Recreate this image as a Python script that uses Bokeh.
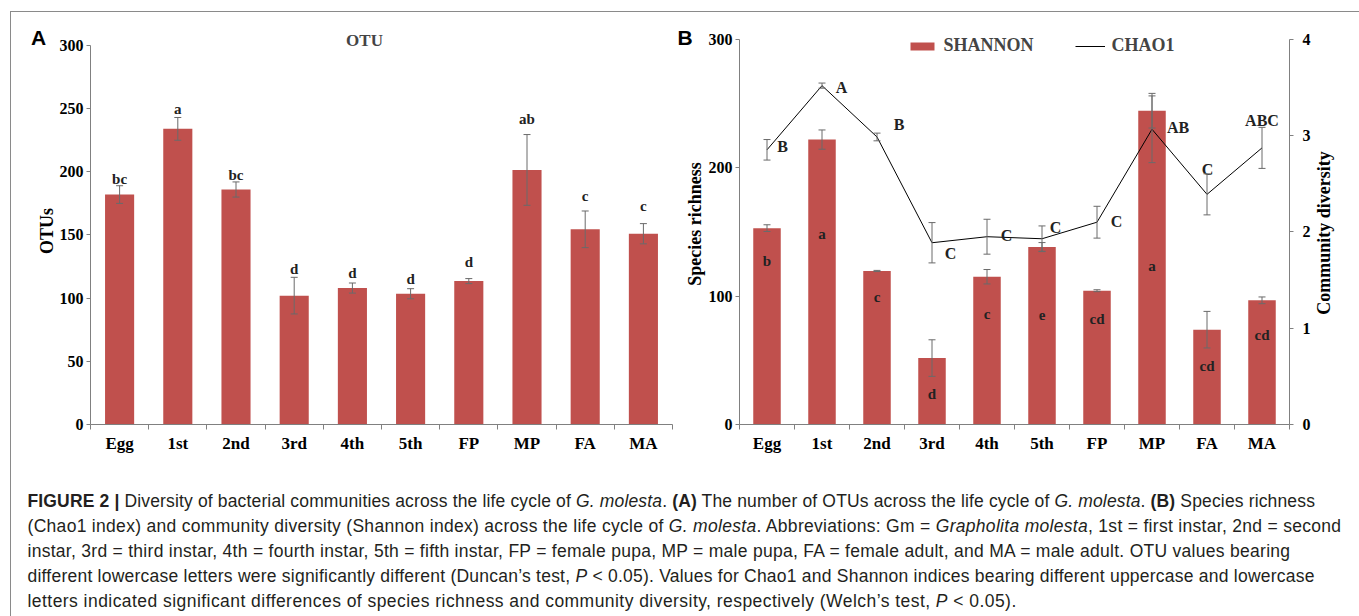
from bokeh.plotting import figure
from bokeh.models import (ColumnDataSource, Range1d, LinearAxis, FixedTicker, Whisker,
                          TeeHead, Label, Legend, LegendItem, Div)
from bokeh.layouts import row, column
from bokeh.core.properties import value
from bokeh.embed import file_html
from bokeh.resources import INLINE

# ---------------- data ----------------
categories = ["Egg", "1st", "2nd", "3rd", "4th", "5th", "FP", "MP", "FA", "MA"]

otu_mean = [182, 234, 186, 102, 108, 103.5, 113.5, 201.5, 154.5, 151]
otu_err = [7, 9, 6, 14.5, 4, 4, 2, 28, 14.5, 8]
otu_letters = ["bc", "a", "bc", "d", "d", "d", "d", "ab", "c", "c"]
otu_letter_y = [194, 250, 197.7, 122.7, 120.3, 114.8, 128.5, 241.5, 180.5, 172.8]

shannon = [2.04, 2.96, 1.595, 0.69, 1.535, 1.845, 1.39, 3.26, 0.985, 1.29]
shannon_err = [0.035, 0.1, 0.006, 0.19, 0.075, 0.045, 0.01, 0.18, 0.19, 0.035]
shannon_letters = ["b", "a", "c", "d", "c", "e", "cd", "a", "cd", "cd"]
shannon_letter_y = [1.698, 1.974, 1.323, 0.32, 1.147, 1.137, 1.099, 1.643, 0.61, 0.933]

chao1 = [214, 264, 224, 141.6, 146.3, 144.7, 157.6, 230, 179.3, 215.5]
chao1_err = [8, 2, 3, 15.7, 13.6, 10, 12.4, 26, 16, 16]
chao1_letters = ["B", "A", "B", "C", "C", "C", "C", "AB", "C", "ABC"]
chao1_letter_y = [216.5, 262.6, 233.9, 133.3, 147.5, 153.5, 157.9, 231, 198.4, 237.2]
chao1_letter_dx = [15.5, 19.5, 22, 18.5, 19.5, 13.5, 19.5, 26, 0.5, 0]

otu_ticks = [0, 50, 100, 150, 200, 250, 300]
rich_ticks = [0, 100, 200, 300]
div_ticks = [0, 1, 2, 3, 4]

# ---------------- styling ----------------
BAR = "#c0504d"
AXIS = "#808080"
ERR = "#6a6a6a"
SERIF = "Liberation Serif"
SANS = "Liberation Sans"

pos = list(range(1, len(categories) + 1))
bounds_ticks = [i + 0.5 for i in range(0, len(categories) + 1)]
overrides = {p: c for p, c in zip(pos, categories)}


def style_x_axis(ax):
    ax.ticker = FixedTicker(ticks=pos, minor_ticks=bounds_ticks)
    ax.major_label_overrides = overrides
    ax.major_tick_out = 0
    ax.major_tick_in = 0
    ax.minor_tick_out = 5
    ax.minor_tick_in = 0
    ax.minor_tick_line_color = AXIS
    ax.axis_line_color = AXIS
    ax.major_label_text_font = SERIF
    ax.major_label_text_font_style = "bold"
    ax.major_label_text_font_size = "17px"
    ax.major_label_text_color = "black"
    ax.major_label_standoff = 4


def style_y_axis(ax, ticks, bnds, standoff):
    ax.ticker = FixedTicker(ticks=ticks, minor_ticks=[])
    ax.bounds = bnds
    ax.major_tick_out = 4
    ax.major_tick_in = 0
    ax.minor_tick_out = 0
    ax.minor_tick_in = 0
    ax.major_tick_line_color = AXIS
    ax.axis_line_color = AXIS
    ax.major_label_text_font = SERIF
    ax.major_label_text_font_style = "bold"
    ax.major_label_text_font_size = "16px"
    ax.major_label_text_color = "black"
    ax.major_label_standoff = standoff
    ax.axis_label_text_font = SERIF
    ax.axis_label_text_font_style = "bold"
    ax.axis_label_text_font_size = "18px"
    ax.axis_label_text_color = "black"


# ---------------- panel A ----------------
srcA = ColumnDataSource(dict(
    x=pos, top=otu_mean,
    upper=[m + e for m, e in zip(otu_mean, otu_err)],
    lower=[m - e for m, e in zip(otu_mean, otu_err)],
    lab=otu_letters, laby=otu_letter_y))

pA = figure(width=664, height=452, output_backend="svg", toolbar_location=None,
            x_range=Range1d(0.5, 10.5), y_range=Range1d(0, 317.4),
            min_border_left=79, min_border_right=3, min_border_top=11, min_border_bottom=40)
pA.outline_line_color = None
pA.grid.visible = False
style_x_axis(pA.xaxis[0])
style_y_axis(pA.yaxis[0], otu_ticks, (0, 300), 3)

pA.vbar(x="x", top="top", width=0.5, source=srcA, fill_color=BAR, line_color=None)
wA = Whisker(base="x", upper="upper", lower="lower", source=srcA, line_color=ERR, line_width=1,
             upper_head=TeeHead(size=7, line_color=ERR, line_width=1),
             lower_head=TeeHead(size=7, line_color=ERR, line_width=1), level="overlay")
pA.add_layout(wA)
pA.text(x="x", y="laby", text="lab", source=srcA, text_font=value(SERIF), text_font_style="bold",
        text_font_size="15px", text_align="center", text_baseline="middle", text_color="#222222")

pA.add_layout(Label(x=353, y=27.5, x_units="canvas", y_units="canvas", text="OTU",
                    text_font=SERIF, text_font_style="bold", text_font_size="17px",
                    text_align="center", text_baseline="middle"))

# ---------------- panel B ----------------
srcB = ColumnDataSource(dict(
    x=pos, top=shannon,
    upper=[m + e for m, e in zip(shannon, shannon_err)],
    lower=[m - e for m, e in zip(shannon, shannon_err)],
    lab=shannon_letters, laby=shannon_letter_y,
    c=chao1,
    cu=[m + e for m, e in zip(chao1, chao1_err)],
    cl=[m - e for m, e in zip(chao1, chao1_err)],
    clab=chao1_letters, claby=chao1_letter_y, cdx=chao1_letter_dx))

pB = figure(width=680, height=452, output_backend="svg", toolbar_location=None,
            x_range=Range1d(0.5, 10.5), y_range=Range1d(0, 312.4),
            min_border_left=64, min_border_right=66, min_border_top=11, min_border_bottom=38)
pB.outline_line_color = None
pB.grid.visible = False
pB.extra_y_ranges = {"right": Range1d(0, 4.166)}
style_x_axis(pB.xaxis[0])
style_y_axis(pB.yaxis[0], rich_ticks, (0, 300), 3)
pB.yaxis[0].axis_label = "Species richness"
pB.yaxis[0].axis_label_standoff = 1
rax = LinearAxis(y_range_name="right")
style_y_axis(rax, div_ticks, (0, 4), 9)
pB.add_layout(rax, "right")

bars = pB.vbar(x="x", top="top", width=0.5, source=srcB, fill_color=BAR, line_color=None,
               y_range_name="right")
wB = Whisker(base="x", upper="upper", lower="lower", source=srcB, line_color=ERR, line_width=1,
             y_range_name="right", level="overlay",
             upper_head=TeeHead(size=7, line_color=ERR, line_width=1),
             lower_head=TeeHead(size=7, line_color=ERR, line_width=1))
pB.add_layout(wB)
line = pB.line(x="x", y="c", source=srcB, line_color="black", line_width=1)
wC = Whisker(base="x", upper="cu", lower="cl", source=srcB, line_color=ERR, line_width=1,
             level="overlay",
             upper_head=TeeHead(size=7, line_color=ERR, line_width=1),
             lower_head=TeeHead(size=7, line_color=ERR, line_width=1))
pB.add_layout(wC)

pB.text(x="x", y="laby", text="lab", source=srcB, y_range_name="right", text_font=value(SERIF),
        text_font_style="bold", text_font_size="15px", text_align="center",
        text_baseline="middle", text_color="#222222")
pB.text(x="x", y="claby", text="clab", x_offset="cdx", source=srcB, text_font=value(SERIF),
        text_font_style="bold", text_font_size="16px", text_align="center",
        text_baseline="middle", text_color="#222222")

legend = Legend(items=[LegendItem(label="SHANNON", renderers=[bars]),
                       LegendItem(label="CHAO1", renderers=[line])],
                orientation="horizontal", location=(168, 368), padding=0, margin=0,
                spacing=41, glyph_width=30, glyph_height=10, label_standoff=7,
                border_line_color=None, background_fill_alpha=0,
                label_text_font=SERIF, label_text_font_style="bold",
                label_text_font_size="18px", label_height=20)
pB.add_layout(legend)

# ---------------- panel letters / rotated titles ----------------
letter_style = {"position": "absolute", "font-family": SANS, "font-weight": "bold",
                "font-size": "21px", "line-height": "21px", "color": "black"}
divA = Div(text="A", width=20, height=22, styles=dict(letter_style, left="15.5px", top="9.5px"))
divB = Div(text="B", width=20, height=22, styles=dict(letter_style, left="662px", top="10px"))

rot_style = {"position": "absolute", "font-family": SERIF, "font-weight": "bold",
             "font-size": "18px", "line-height": "22px", "text-align": "center",
             "color": "black", "transform": "rotate(-90deg)", "transform-origin": "50% 50%",
             "white-space": "nowrap"}
divOTUs = Div(text="OTUs", width=60, height=22,
              styles=dict(rot_style, left="1px", top="202.5px"))
divCD = Div(text="Community diversity", width=180, height=22,
            styles=dict(rot_style, left="1218px", top="204.5px"))

# ---------------- caption ----------------
caption_lines = [
    ("0.15px", "<b>FIGURE 2 |</b> Diversity of bacterial communities across the life cycle of <i>G. molesta</i>. "
     "<b>(A)</b> The number of OTUs across the life cycle of <i>G. molesta</i>. <b>(B)</b> Species richness"),
    ("0.3px", "(Chao1 index) and community diversity (Shannon index) across the life cycle of <i>G. molesta</i>. "
     "Abbreviations: Gm = <i>Grapholita molesta</i>, 1st = first instar, 2nd = second"),
    ("0.28px", "instar, 3rd = third instar, 4th = fourth instar, 5th = fifth instar, FP = female pupa, "
     "MP = male pupa, FA = female adult, and MA = male adult. OTU values bearing"),
    ("0.23px", "different lowercase letters were significantly different (Duncan\u2019s test, <i>P</i> &lt; 0.05). "
     "Values for Chao1 and Shannon indices bearing different uppercase and lowercase"),
    ("0.45px", "letters indicated significant differences of species richness and community diversity, "
     "respectively (Welch\u2019s test, <i>P</i> &lt; 0.05)."),
]
cap_html = "<br>".join('<span style="letter-spacing:%s">%s</span>' % (ls, t) for ls, t in caption_lines)
cap = Div(text=cap_html, width=1344, height=143,
          styles={"font-family": SANS, "font-size": "17.5px", "line-height": "25px",
                  "color": "#231f20", "white-space": "nowrap", "padding-left": "12px",
                  "padding-top": "20px", "box-sizing": "border-box"})

root = column(row(pA, pB), cap, divA, divB, divOTUs, divCD,
              styles={"margin-top": "11px", "margin-left": "9.5px", "border-style": "solid",
                      "border-color": "#8a8a8a", "border-width": "1.5px 1.5px 0 1.5px",
                      "position": "relative"})

open("out.html", "w").write(file_html(root, INLINE))
